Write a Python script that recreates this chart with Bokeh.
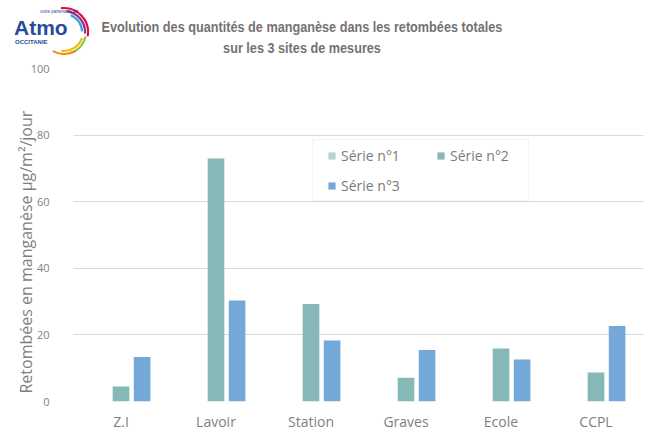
import math
from bokeh.plotting import figure
from bokeh.models import (ColumnDataSource, Range1d, FactorRange, Legend, LegendItem,
                          BoxAnnotation, FixedTicker, Div, Title)
from bokeh.transform import dodge
from bokeh.layouts import column
from bokeh.embed import file_html
from bokeh.resources import INLINE

# ---- data ----
sites = ["Z.I", "Lavoir", "Station", "Graves", "Ecole", "CCPL"]
serie1 = [0, 0, 0, 0, 0, 0]
serie2 = [4.5, 73.0, 29.3, 7.1, 15.9, 8.7]
serie3 = [13.4, 30.3, 18.3, 15.5, 12.6, 22.7]
series_names = ["Série n°1", "Série n°2", "Série n°3"]
y_ticks = [0, 20, 40, 60, 80, 100]
title_lines = ["Evolution des quantités de manganèse dans les retombées totales",
               "sur les 3 sites de mesures"]
y_label = "Retombées en manganèse µg/m²/jour"

colors = ["#b4d5d5", "#85b8b7", "#73a8d9"]
GRAY = "#767171"
TXT = "#7f7f7f"

W = 649
HEAD_H = 56
MAIN_H = 377

# ---- header (logo + title) as HTML ----
def arc_path(cx, cy, r, a0, a1):
    t0, t1 = math.radians(a0), math.radians(a1)
    x0, y0 = cx + r * math.cos(t0), cy + r * math.sin(t0)
    x1, y1 = cx + r * math.cos(t1), cy + r * math.sin(t1)
    large = 1 if (a1 - a0) > 180 else 0
    return f"M {x0:.1f} {y0:.1f} A {r} {r} 0 {large} 1 {x1:.1f} {y1:.1f}"

arcs = [("#e30b3b", 24, -95, 8), ("#9b2a8f", 21, -80, 2), ("#2aa3dc", 18, -65, -5),
        ("#8dc63f", 22, 14, 75), ("#f7b500", 19, 22, 95), ("#f08a1c", 22, 60, 118)]
paths = "".join(f'<path d="{arc_path(64, 32, r, a0, a1)}" stroke="{c}" stroke-width="2.2" '
                f'fill="none" stroke-linecap="round"/>' for c, r, a0, a1 in arcs)
logo_blue = "#2c4a9a"
logo_svg = (
    f'<svg width="100" height="56" style="position:absolute;left:0;top:0" xmlns="http://www.w3.org/2000/svg">'
    f'{paths}'
    f'<text x="14" y="35" font-family="Liberation Sans" font-weight="bold" font-size="21" fill="{logo_blue}">Atmo</text>'
    f'<text x="40" y="13" font-family="Liberation Sans" font-size="4.5" fill="{logo_blue}">votre partenaire <tspan font-weight="bold">air</tspan></text>'
    f'<text x="15" y="44" font-family="Liberation Sans" font-weight="bold" font-size="6" fill="{logo_blue}">OCCITANIE</text>'
    f'</svg>')
title_html = (
    f'<div style="position:absolute;left:0;top:16px;width:604px;text-align:center;'
    f'font-family:\'Liberation Sans\';font-weight:bold;font-size:15px;color:{GRAY};line-height:21px;'
    f'transform:scaleX(0.845);transform-origin:302px 0;">'
    f'{title_lines[0]}<br>{title_lines[1]}</div>')
header = Div(text=f'<div style="position:relative;width:{W}px;height:{HEAD_H}px;">{logo_svg}{title_html}</div>',
             width=W, height=HEAD_H, margin=(0, 0, 0, 0))

# ---- main figure ----
src = ColumnDataSource(dict(site=sites, s1=serie1, s2=serie2, s3=serie3))

p = figure(width=W, height=MAIN_H, x_range=FactorRange(*sites), y_range=Range1d(0, 100),
           output_backend="svg", toolbar_location=None,
           min_border_left=73, min_border_right=6, min_border_top=12, min_border_bottom=32)
p.outline_line_color = None
p.x_range.range_padding = 0
p.xgrid.visible = False
p.ygrid.grid_line_color = "#d9d9d9"
p.ygrid.grid_line_width = 1

p.yaxis.ticker = FixedTicker(ticks=y_ticks)
for ax in (p.xaxis[0], p.yaxis[0]):
    ax.axis_line_color = None
    ax.major_tick_line_color = None
    ax.minor_tick_line_color = None
    ax.major_tick_out = 0
    ax.major_tick_in = 0
    ax.minor_tick_out = 0
    ax.major_label_text_color = TXT
    ax.major_label_text_font = "Open Sans"
p.yaxis.major_label_text_font_size = "11px"
p.yaxis.major_label_standoff = 24
p.xaxis.major_label_text_font_size = "14px"
p.xaxis.major_label_standoff = 10

ytitle = Title(text=y_label, align="left", offset=8, standoff=-18,
               text_font="Open Sans", text_font_style="normal", text_font_size="16px",
               text_color=TXT)
p.add_layout(ytitle, "left")

off = 0.222
bw = 0.175
r1 = p.vbar(x=dodge("site", -off, range=p.x_range), top="s1", width=bw, source=src,
            fill_color=colors[0], line_color=None)
r2 = p.vbar(x=dodge("site", 0.0, range=p.x_range), top="s2", width=bw, source=src,
            fill_color=colors[1], line_color=None)
r3 = p.vbar(x=dodge("site", off, range=p.x_range), top="s3", width=bw, source=src,
            fill_color=colors[2], line_color=None)

# legend box
box = BoxAnnotation(left=239, right=455, top=262, bottom=201,
                    left_units="screen", right_units="screen", top_units="screen", bottom_units="screen",
                    fill_color="white", fill_alpha=1.0, line_color="#d9d9d9", line_width=1)
p.add_layout(box)

legend = Legend(items=[LegendItem(label=series_names[0], renderers=[r1]),
                       LegendItem(label=series_names[1], renderers=[r2]),
                       LegendItem(label=series_names[2], renderers=[r3])],
                location=(254, 206), ncols=2, orientation="horizontal",
                padding=0, spacing=10, label_height=20, label_width=85,
                glyph_width=9, glyph_height=9, label_standoff=5,
                border_line_color=None, background_fill_alpha=0,
                label_text_font="Open Sans", label_text_font_size="14px",
                label_text_color="#7a7a7a")
p.add_layout(legend, "center")

layout = column(header, p, spacing=0)
open("out.html", "w").write(file_html(layout, INLINE))
